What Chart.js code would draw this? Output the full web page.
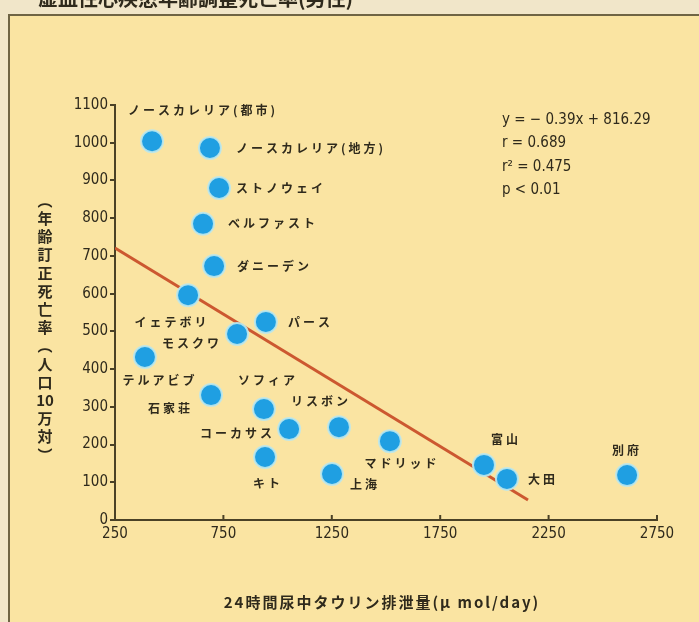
<!DOCTYPE html>
<html lang="ja">
<head>
<meta charset="utf-8">
<script src="https://cdn.jsdelivr.net/npm/chart.js@4/dist/chart.umd.min.js"></script>
<style>
  html, body { margin: 0; padding: 0; background: #f1e6c9; }
  #wrap { position: relative; width: 699px; height: 622px; overflow: hidden; }
</style>
</head>
<body>
<div id="wrap"><canvas id="chart" width="699" height="622"></canvas></div>
<script>
// 都市ごとの24時間尿中タウリン排泄量と年齢訂正死亡率
const cities = [
  'ノースカレリア(都市)', 'ノースカレリア(地方)', 'ストノウェイ', 'ベルファスト', 'ダニーデン',
  'イェテボリ', 'パース', 'モスクワ', 'テルアビブ', '石家荘',
  'ソフィア', 'コーカサス', 'リスボン', 'キト', '上海',
  'マドリッド', '富山', '大田', '別府'
];
const taurine = [421, 688, 730, 656, 707, 587, 946, 813, 388, 693, 937, 1053, 1283, 942, 1251, 1518, 1952, 2058, 2612];
const mortality = [1004, 986, 880, 785, 673, 596, 525, 493, 432, 331, 294, 241, 246, 167, 122, 209, 146, 109, 119];

// 回帰直線の両端
const trendX = [250, 2155];
const trendY = [721, 53];

const xTicks = [250, 750, 1250, 1750, 2250, 2750];
const yTicks = [0, 100, 200, 300, 400, 500, 600, 700, 800, 900, 1000, 1100];

const statLines = ['y = − 0.39x + 816.29', 'r = 0.689', 'r² = 0.475', 'p < 0.01'];
const chartTitle = '虚血性心疾患年齢調整死亡率(男性)';
const xTitle = '24時間尿中タウリン排泄量(μ mol/day)';
const yTitle = ['︵', '年', '齢', '訂', '正', '死', '亡', '率', '︵', '人', '口', '10', '万', '対', '︶'];

// ラベルの置き場所 (点の中心からのずれ)
const labelOffsets = [
  [-24, -31, 'left'], [26, 0, 'left'], [17, 0, 'left'], [25, 0, 'left'], [23, 0, 'left'],
  [-16, 27, 'center'], [22, 1, 'left'], [-15, 9, 'right'], [15, 23, 'center'], [-18, 13, 'right'],
  [4, -29, 'center'], [-14, 4, 'right'], [-18, -26, 'center'], [3, 26, 'center'], [18, 10, 'left'],
  [12, 22, 'center'], [22, -25, 'center'], [21, 1, 'left'], [0, -25, 'center']
];

const INK = '#2f2a1c';
const AXIS = '#4a4126';
const JP = '"Noto Sans CJK JP", "Noto Sans", sans-serif';
const NUM = '"DejaVu Sans Condensed", "DejaVu Sans", sans-serif';

const backdrop = {
  id: 'backdrop',
  beforeDraw(chart) {
    const ctx = chart.ctx;
    ctx.save();
    ctx.fillStyle = '#f1e6c9';
    ctx.fillRect(0, 0, chart.width, chart.height);
    ctx.fillStyle = '#fae4a2';
    ctx.fillRect(10, 16, chart.width - 10, chart.height - 16);
    ctx.strokeStyle = '#6f6444';
    ctx.lineWidth = 2;
    ctx.beginPath();
    ctx.moveTo(9, chart.height);
    ctx.lineTo(9, 15);
    ctx.lineTo(chart.width, 15);
    ctx.stroke();
    // 見出し (上端で切れている)
    ctx.fillStyle = INK;
    ctx.font = 'bold 20px ' + JP;
    ctx.textBaseline = 'alphabetic';
    ctx.fillText(chartTitle, 38, 6);
    ctx.restore();
  }
};

const annotations = {
  id: 'annotations',
  afterDraw(chart) {
    const ctx = chart.ctx;
    const xs = chart.scales.x, ys = chart.scales.y;
    ctx.save();

    // x軸の内向き目盛
    ctx.strokeStyle = AXIS;
    ctx.lineWidth = 2;
    xTicks.forEach(v => {
      const px = xs.getPixelForValue(v);
      ctx.beginPath();
      ctx.moveTo(px, ys.bottom);
      ctx.lineTo(px, ys.bottom - 5);
      ctx.stroke();
    });

    // 都市名
    ctx.fillStyle = INK;
    ctx.font = 'bold 12px ' + JP;
    ctx.letterSpacing = '3px';
    ctx.textBaseline = 'middle';
    cities.forEach((name, i) => {
      const [dx, dy, align] = labelOffsets[i];
      ctx.textAlign = align;
      ctx.fillText(name, xs.getPixelForValue(taurine[i]) + dx, ys.getPixelForValue(mortality[i]) + dy);
    });

    // 回帰式
    ctx.letterSpacing = '0px';
    ctx.textAlign = 'left';
    ctx.font = '15px ' + NUM;
    statLines.forEach((t, i) => ctx.fillText(t, 502, 120 + i * 23.5));

    // x軸タイトル
    ctx.font = 'bold 15px ' + JP;
    ctx.letterSpacing = '2px';
    ctx.textAlign = 'center';
    ctx.fillText(xTitle, 382, 602);

    // y軸タイトル (縦書き)
    ctx.letterSpacing = '0px';
    yTitle.forEach((ch, i) => {
      ctx.fillText(ch, 45, 200 + i * 18.2);
    });
    ctx.restore();
  }
};

new Chart(document.getElementById('chart'), {
  type: 'scatter',
  data: {
    datasets: [
      {
        label: '死亡率',
        data: taurine.map((x, i) => ({ x, y: mortality[i] })),
        backgroundColor: '#1f9fe2',
        borderColor: 'rgba(190, 232, 236, 0.9)',
        borderWidth: 2,
        pointRadius: 11,
        pointHoverRadius: 11,
        order: 1
      },
      {
        label: '回帰直線',
        data: trendX.map((x, i) => ({ x, y: trendY[i] })),
        showLine: true,
        borderColor: '#cc5830',
        borderWidth: 3,
        pointRadius: 0,
        order: 2
      }
    ]
  },
  options: {
    responsive: false,
    animation: false,
    layout: { padding: { left: 0, top: 105, right: 42, bottom: 0 } },
    plugins: { legend: { display: false }, tooltip: { enabled: false } },
    scales: {
      x: {
        type: 'linear',
        min: 250,
        max: 2750,
        afterBuildTicks: s => { s.ticks = xTicks.map(v => ({ value: v })); },
        afterFit: s => { s.height = 102; },
        grid: { display: false, drawTicks: false },
        border: { color: AXIS, width: 2 },
        ticks: { color: INK, padding: 5, callback: v => String(v), font: { family: NUM, size: 15 } }
      },
      y: {
        type: 'linear',
        min: 0,
        max: 1100,
        afterBuildTicks: s => { s.ticks = yTicks.map(v => ({ value: v })); },
        afterFit: s => { s.width = 115; },
        grid: { drawOnChartArea: false, drawTicks: true, tickLength: 5, color: AXIS, lineWidth: 2 },
        border: { color: AXIS, width: 2 },
        ticks: { color: INK, padding: 2, callback: v => String(v), font: { family: NUM, size: 15 } }
      }
    }
  },
  plugins: [backdrop, annotations]
});
</script>
</body>
</html>
